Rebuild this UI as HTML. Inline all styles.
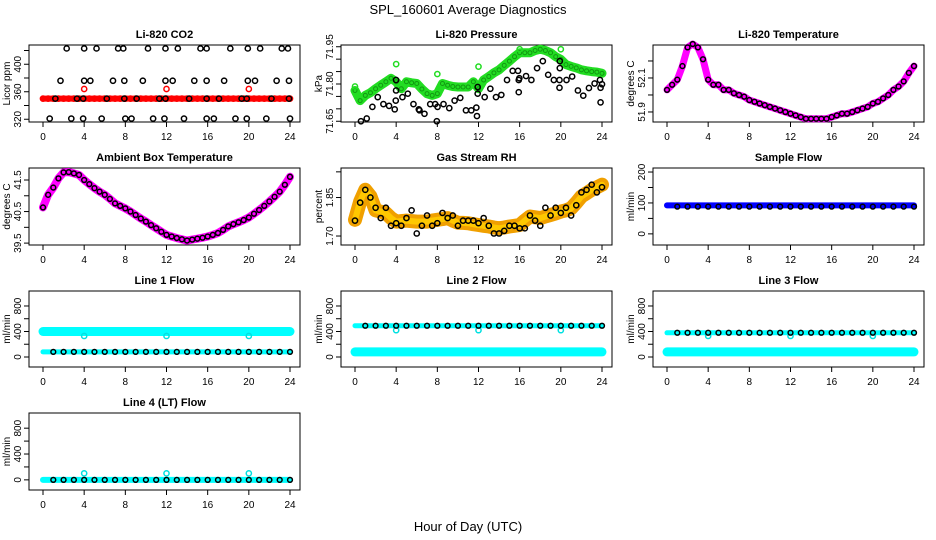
<!DOCTYPE html>
<html><head><meta charset="utf-8"><style>
html,body{margin:0;padding:0;background:#fff;}
svg{display:block;font-family:"Liberation Sans",Arial,sans-serif;}
</style></head><body>
<svg id="c" width="936" height="540" viewBox="0 0 936 540">
<text x="468" y="14" text-anchor="middle" font-size="13">SPL_160601  Average Diagnostics</text>
<text x="468" y="531" text-anchor="middle" font-size="13">Hour of Day (UTC)</text>
</svg>
<script>
const xTicks=[0,4,8,12,16,20,24];
const halfHours=[0,0.5,1,1.5,2,2.5,3,3.5,4,4.5,5,5.5,6,6.5,7,7.5,8,8.5,9,9.5,10,10.5,11,11.5,12,12.5,13,13.5,14,14.5,15,15.5,16,16.5,17,17.5,18,18.5,19,19.5,20,20.5,21,21.5,22,22.5,23,23.5,24];
const hours=[0,1,2,3,4,5,6,7,8,9,10,11,12,13,14,15,16,17,18,19,20,21,22,23,24];
// CO2
const co2Red=[350,350,350,350,350,350,350,350,350,350,350,350,350,350,350,350,350,350,350,350,350,350,350,350,350,350,350,350,350,350,350,350,350,350,350,350,350,350,350,350,350,350,350,350,350,350,350,350,350];
const co2RedOutHours=[4,12,20];
const co2RedOut=[364,364,364];
const co2BlackHours=[2.3,4,5.2,7.3,7.8,10.2,11.9,13.1,15.3,15.9,18.2,19.9,21.1,23.2,23.8,1.7,4,4.6,6.8,7.9,9.7,11.9,12.6,14.7,15.9,17.6,19.9,20.6,22.7,23.9,1.2,3.3,3.9,6.2,7.9,9.1,11.3,11.9,14.2,15.9,17.1,19.3,19.8,22.2,23.9,0.65,2.75,3.9,5.7,8,8.6,10.7,11.8,13.7,15.9,16.6,18.7,19.8,21.7,24];
const co2Black=[423,423,423,423,423,423,423,423,423,423,423,423,423,423,423,376,376,376,376,376,376,376,376,376,376,376,376,376,376,376,350,350,350,350,350,350,350,350,350,350,350,350,350,350,350,321,321,321,321,321,321,321,321,321,321,321,321,321,321,321];
// Pressure
const presGreen=[71.774,71.733,71.754,71.765,71.781,71.795,71.809,71.823,71.809,71.781,71.809,71.805,71.802,71.78,71.761,71.754,71.761,71.802,71.795,71.79,71.788,71.788,71.788,71.809,71.781,71.816,71.83,71.845,71.857,71.875,71.892,71.91,71.926,71.926,71.926,71.935,71.94,71.935,71.926,71.91,71.899,71.878,71.871,71.865,71.857,71.853,71.85,71.848,71.843];
const presGreenOutHours=[0,4,8,12,16,20];
const presGreenOut=[71.79,71.88,71.84,71.87,71.94,71.94];
const presBlackHours=[0.58,1.14,1.69,2.21,2.76,3.31,3.86,3.96,3.99,3.99,4.61,5.13,5.68,6.2,6.27,6.75,7.31,7.79,7.95,8.02,8.6,9.16,9.68,10.23,10.78,11.3,11.79,11.85,11.92,11.92,12.6,13.15,13.7,14.22,14.77,15.32,15.84,15.91,15.91,15.97,16.62,17.14,17.69,18.25,18.77,19.32,19.87,19.87,19.9,19.9,20.55,21.1,21.66,22.18,22.73,23.28,23.8,23.86,23.86,24];
const presBlack=[71.650,71.661,71.708,71.747,71.719,71.712,71.698,71.733,71.774,71.816,71.747,71.761,71.719,71.698,71.694,71.680,71.719,71.719,71.650,71.708,71.719,71.703,71.733,71.744,71.694,71.694,71.705,71.671,71.761,71.788,71.747,71.781,71.747,71.756,71.816,71.853,71.853,71.816,71.767,71.823,71.832,71.816,71.864,71.892,71.837,71.816,71.816,71.785,71.864,71.892,71.816,71.830,71.774,71.753,71.784,71.802,71.816,71.785,71.726,71.799];
// Li-820 temperature
const licorTemp=[52.03,52.06,52.09,52.17,52.28,52.30,52.28,52.21,52.09,52.06,52.06,52.03,52.03,52.01,52.00,51.99,51.97,51.96,51.95,51.94,51.93,51.92,51.91,51.90,51.89,51.88,51.87,51.86,51.86,51.86,51.86,51.86,51.87,51.88,51.89,51.89,51.90,51.91,51.92,51.93,51.95,51.96,51.98,52.00,52.03,52.05,52.08,52.13,52.17];
// Ambient box temp
const boxTemp=[40.63,41.03,41.26,41.55,41.74,41.75,41.71,41.66,41.5,41.37,41.24,41.13,41.03,40.9,40.76,40.68,40.6,40.5,40.39,40.28,40.18,40.07,39.97,39.86,39.76,39.71,39.66,39.62,39.58,39.61,39.64,39.67,39.71,39.76,39.82,39.92,40.03,40.1,40.16,40.23,40.31,40.43,40.55,40.68,40.82,40.97,41.13,41.35,41.6];
// Gas RH
const rhOrange=[1.763,1.834,1.88,1.855,1.80,1.795,1.789,1.77,1.756,1.758,1.76,1.758,1.756,1.756,1.756,1.76,1.763,1.766,1.77,1.76,1.752,1.751,1.75,1.746,1.743,1.74,1.737,1.733,1.73,1.733,1.737,1.74,1.743,1.76,1.776,1.773,1.77,1.776,1.782,1.788,1.795,1.80,1.808,1.83,1.854,1.867,1.88,1.89,1.90];
const rhBlack=[1.76,1.83,1.88,1.85,1.81,1.77,1.81,1.74,1.75,1.74,1.77,1.80,1.71,1.74,1.78,1.74,1.75,1.79,1.77,1.78,1.74,1.76,1.76,1.76,1.75,1.77,1.74,1.71,1.71,1.72,1.74,1.74,1.73,1.73,1.78,1.76,1.74,1.81,1.78,1.81,1.79,1.81,1.78,1.82,1.87,1.88,1.90,1.87,1.89];
// Sample flow
const sampleBlue=[92,92,92,92,92,92,92,92,92,92,92,92,92,92,92,92,92,92,92,92,92,92,92,92,92];
const sampleBlack=[88,88,88,88,88,88,88,88,88,88,88,88,88,88,88,88,88,88,88,88,88,88,88,88,88];
// Line flows
const line1Cyan=[400,400,400,400,400,400,400,400,400,400,400,400,400,400,400,400,400,400,400,400,400,400,400,400,400];
const line1Black=[80,80,80,80,80,80,80,80,80,80,80,80,80,80,80,80,80,80,80,80,80,80,80,80,80];
const line2Black=[490,490,490,490,490,490,490,490,490,490,490,490,490,490,490,490,490,490,490,490,490,490,490,490,490];
const line2Cyan=[80,80,80,80,80,80,80,80,80,80,80,80,80,80,80,80,80,80,80,80,80,80,80,80,80];
const line3Black=[380,380,380,380,380,380,380,380,380,380,380,380,380,380,380,380,380,380,380,380,380,380,380,380,380];
const line3Cyan=[80,80,80,80,80,80,80,80,80,80,80,80,80,80,80,80,80,80,80,80,80,80,80,80,80];
const line4Black=[0,0,0,0,0,0,0,0,0,0,0,0,0,0,0,0,0,0,0,0,0,0,0,0,0];
const line4Cyan=[0,0,0,0,0,0,0,0,0,0,0,0,0,0,0,0,0,0,0,0,0,0,0,0,0];
const outHours=[4,12,20];
const line1Out=[330,330,330];
const line2Out=[420,420,420];
const line3Out=[330,330,330];
const line4Out=[100,100,100];

const svg=document.getElementById('c');
const NS='http://www.w3.org/2000/svg';
function mk(tag,attrs,parent){const e=document.createElementNS(NS,tag);for(const k in attrs)e.setAttribute(k,attrs[k]);(parent||svg).appendChild(e);return e;}
const rowTop=[45,168,291,413], rowBot=[122,245,367,490];
function panel(col,row,title,ylab,ymin,ymax,ticks,labels,name){
  const L=29+312*col,R=300+312*col,T=rowTop[row],B=rowBot[row];
  const g=mk('g',{});
  
  
  const xs=h=>43+312*col+h*(247/24);
  const ys=v=>B-(v-ymin)/(ymax-ymin)*(B-T);
  const box=mk('rect',{x:L,y:T,width:R-L,height:B-T,fill:'none',stroke:'#000','stroke-width':1},g);
  
  
  const t=mk('text',{x:(L+R)/2,y:T-7,'text-anchor':'middle','font-size':11,'font-weight':'bold'},g);t.textContent=title;
  
  
  const yl=mk('text',{transform:`translate(${L-19},${(T+B)/2}) rotate(-90)`,'text-anchor':'middle','font-size':10},g);yl.textContent=ylab;
  
  
  mk('line',{x1:xs(0),x2:xs(24),y1:B,y2:B,stroke:'#000'},g);
  xTicks.forEach(h=>{mk('line',{x1:xs(h),x2:xs(h),y1:B,y2:B+5,stroke:'#000'},g);
    const tx=mk('text',{x:xs(h),y:B+18,'text-anchor':'middle','font-size':10},g);tx.textContent=h;
    
    });
  mk('line',{x1:L,x2:L,y1:ys(ticks[0]),y2:ys(ticks[ticks.length-1]),stroke:'#000'},g);
  ticks.forEach((v,i)=>{const y=ys(v);mk('line',{x1:L-5,x2:L,y1:y,y2:y,stroke:'#000'},g);
    if(labels[i]!==''){const tx=mk('text',{transform:`translate(${L-8},${y}) rotate(-90)`,'text-anchor':'middle','font-size':10},g);tx.textContent=labels[i];
    
    }});
  return {g,xs,ys};
}
function band(p,hs,vs,color,w,name){
  const d=hs.map((h,i)=>(i?'L':'M')+p.xs(h).toFixed(1)+','+p.ys(vs[i]).toFixed(1)).join('');
  const e=mk('path',{d,fill:'none',stroke:color,'stroke-width':w,'stroke-linejoin':'round','stroke-linecap':'round'},p.g);
  
  
}
function pts(p,hs,vs,color,name,r,sw){
  hs.forEach((h,i)=>{const c=mk('circle',{cx:p.xs(h),cy:p.ys(vs[i]),r:r||2.6,fill:'none',stroke:color,'stroke-width':sw||1.5},p.g);
  
  });
}
let p=panel(0,0,'Li-820 CO2','Licor ppm',316,428,[320,340,360,380,400,420],['320','','360','','400',''],'co2');
band(p,halfHours,co2Red,'#ff0000',6,'co2-red-trace');
pts(p,halfHours,co2Red,'#ff0000','co2-red-point');
pts(p,co2RedOutHours,co2RedOut,'#ff0000','co2-red-outlier');
pts(p,co2BlackHours,co2Black,'#000','co2-black-point');
p=panel(1,0,'Li-820 Pressure','kPa',71.647,71.957,[71.65,71.70,71.75,71.80,71.85,71.90,71.95],['71.65','','','71.80','','','71.95'],'pressure');
band(p,halfHours,presGreen,'#22dd22',9,'pressure-green-trace');
pts(p,halfHours,presGreen,'#119911','pressure-green-point',2,1);
pts(p,presGreenOutHours,presGreenOut,'#22dd22','pressure-green-outlier');
pts(p,presBlackHours,presBlack,'#000','pressure-black-point');
p=panel(2,0,'Li-820 Temperature','degrees C',51.841,52.294,[51.9,52.0,52.1,52.2],['51.9','','52.1',''],'licor-temp');
band(p,halfHours,licorTemp,'#ff00ff',7,'licor-temp-magenta-trace');
pts(p,halfHours,licorTemp,'#000','licor-temp-black-point',2.4,1.5);
p=panel(0,1,'Ambient Box Temperature','degrees C',39.44,41.88,[39.5,40,40.5,41,41.5],['39.5','','40.5','','41.5'],'box-temp');
band(p,halfHours,boxTemp,'#ff00ff',8,'box-temp-magenta-trace');
pts(p,halfHours,boxTemp,'#000','box-temp-black-point',2.4,1.5);
p=panel(1,1,'Gas Stream RH','percent',1.665,1.965,[1.70,1.85,1.95],['1.70','1.85',''],'gas-rh');
band(p,halfHours,rhOrange,'#f0a000',14,'gas-rh-orange-band');
band(p,halfHours,rhOrange,'#ffc800',6,'gas-rh-yellow-core');
pts(p,halfHours,rhBlack,'#000','gas-rh-black-point');
p=panel(2,1,'Sample Flow','ml/min',-36,213,[0,50,100,150,200],['0','','100','','200'],'sample-flow');
band(p,hours,sampleBlue,'#0000ff',6,'sample-flow-blue-trace');
pts(p,hours.slice(1),sampleBlack.slice(1),'#000','sample-flow-black-point',2.4);
const fT=[0,200,400,600,800],fL=['0','','400','','800'];
p=panel(0,2,'Line 1 Flow','ml/min',-157,1035,fT,fL,'line1-flow');
band(p,hours,line1Cyan,'#00ffff',9,'line1-cyan-trace');
pts(p,outHours,line1Out,'#00e0e0','line1-cyan-outlier');
band(p,hours,line1Black,'#00ffff',5,'line1-cyan-under');
pts(p,hours.slice(1),line1Black.slice(1),'#000','line1-black-point',2.4);
p=panel(1,2,'Line 2 Flow','ml/min',-157,1035,fT,fL,'line2-flow');
band(p,hours,line2Cyan,'#00ffff',9,'line2-cyan-trace');
band(p,hours,line2Black,'#00ffff',5,'line2-cyan-under');
pts(p,outHours,line2Out,'#00e0e0','line2-cyan-outlier');
pts(p,hours.slice(1),line2Black.slice(1),'#000','line2-black-point',2.4);
p=panel(2,2,'Line 3 Flow','ml/min',-157,1035,fT,fL,'line3-flow');
band(p,hours,line3Cyan,'#00ffff',9,'line3-cyan-trace');
band(p,hours,line3Black,'#00ffff',5,'line3-cyan-under');
pts(p,outHours,line3Out,'#00e0e0','line3-cyan-outlier');
pts(p,hours.slice(1),line3Black.slice(1),'#000','line3-black-point',2.4);
p=panel(0,3,'Line 4 (LT) Flow','ml/min',-157,1035,fT,fL,'line4-flow');
band(p,hours,line4Cyan,'#00ffff',6,'line4-cyan-trace');
pts(p,outHours,line4Out,'#00e0e0','line4-cyan-outlier');
pts(p,hours.slice(1),line4Black.slice(1),'#000','line4-black-point',2.4);
</script>
</body></html>
